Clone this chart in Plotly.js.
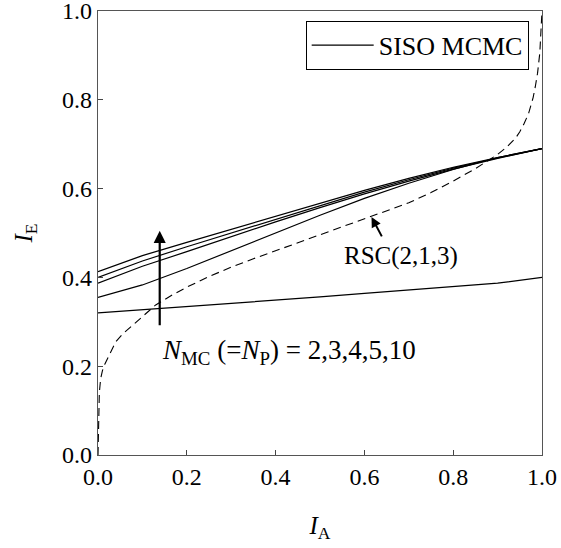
<!DOCTYPE html>
<html><head><meta charset="utf-8">
<script src="https://cdn.plot.ly/plotly-3.0.1.min.js"></script>
<style>html,body{margin:0;padding:0;background:#fff;}</style>
</head><body><div id="chart" style="width:561px;height:548px;"></div>
<script>
const xMC = [0, 0.1, 0.2, 0.3, 0.4, 0.5, 0.6, 0.7, 0.8, 0.9, 1.0];
const yN2  = [0.320, 0.327, 0.334, 0.341, 0.348, 0.356, 0.364, 0.372, 0.379, 0.387, 0.400];
const yN3  = [0.355, 0.383, 0.420, 0.460, 0.500, 0.540, 0.578, 0.612, 0.643, 0.670, 0.690];
const yN4  = [0.387, 0.425, 0.458, 0.492, 0.525, 0.557, 0.588, 0.617, 0.644, 0.668, 0.690];
const yN5  = [0.400, 0.437, 0.469, 0.500, 0.531, 0.562, 0.592, 0.620, 0.646, 0.669, 0.690];
const yN10 = [0.413, 0.449, 0.479, 0.508, 0.537, 0.566, 0.596, 0.623, 0.648, 0.670, 0.690];
const xRSC = [0, 0.001, 0.003, 0.006, 0.01, 0.015, 0.02, 0.03, 0.04, 0.055, 0.07, 0.085, 0.1, 0.13, 0.17, 0.2, 0.25, 0.3, 0.35, 0.4, 0.45, 0.5, 0.55, 0.6, 0.65, 0.7, 0.75, 0.8, 0.85, 0.9, 0.92, 0.94, 0.95, 0.96, 0.97, 0.98, 0.985, 0.99, 0.995, 0.998, 1.0];
const yRSC = [0, 0.09, 0.14, 0.172, 0.19, 0.204, 0.215, 0.237, 0.255, 0.272, 0.285, 0.3, 0.313, 0.338, 0.362, 0.378, 0.402, 0.423, 0.442, 0.46, 0.479, 0.497, 0.515, 0.532, 0.55, 0.568, 0.591, 0.617, 0.645, 0.677, 0.693, 0.713, 0.728, 0.747, 0.77, 0.805, 0.83, 0.86, 0.905, 0.95, 1.0];
const tickVals = [0, 0.2, 0.4, 0.6, 0.8, 1.0];
const tickText = ['0.0', '0.2', '0.4', '0.6', '0.8', '1.0'];

const FONT = 'Liberation Serif';
const mcSeries = [yN2, yN3, yN4, yN5, yN10];
const traces = mcSeries.map((ys, i) => ({
  x: xMC, y: ys, type: 'scatter', mode: 'lines',
  line: {color: '#000', width: 1.2},
  name: 'SISO MCMC', showlegend: i === 0, hoverinfo: 'skip'
}));
traces.push({
  x: xRSC, y: yRSC, type: 'scatter', mode: 'lines',
  line: {color: '#000', width: 1.1, dash: '8px,5px'},
  showlegend: false, hoverinfo: 'skip'
});

const axisCommon = {
  range: [0, 1], tickvals: tickVals, ticktext: tickText,
  ticks: 'inside', ticklen: 5, tickwidth: 1, tickcolor: '#444',
  showline: true, linecolor: '#555', linewidth: 1.3, mirror: true,
  showgrid: false, zeroline: false, ticklabeloverflow: 'allow',
  tickfont: {family: FONT, size: 24, color: '#000'}
};

const layout = {
  width: 561, height: 548,
  margin: {l: 98, r: 19, t: 11, b: 93},
  paper_bgcolor: '#fff', plot_bgcolor: '#fff',
  font: {family: FONT, color: '#000'},
  showlegend: true,
  legend: {
    x: 0.97, xanchor: 'right', y: 0.978, yanchor: 'top',
    bordercolor: '#000', borderwidth: 1, bgcolor: '#fff',
    font: {family: FONT, size: 26, color: '#000'},
    itemwidth: 62
  },
  xaxis: Object.assign({}, axisCommon, {
    title: {text: '<i>I</i><sub>A</sub>', font: {family: FONT, size: 25}, standoff: 27}
  }),
  yaxis: Object.assign({}, axisCommon, {
    title: {text: '<i>I</i><sub>E</sub>', font: {family: FONT, size: 25}, standoff: 22}
  }),
  annotations: [
    {x: 0.139, y: 0.505, ax: 0.139, ay: 0.289, xref: 'x', yref: 'y', axref: 'x', ayref: 'y',
     showarrow: true, arrowhead: 2, arrowsize: 1.1, arrowwidth: 2.2, arrowcolor: '#000', text: ''},
    {x: 0.14, y: 0.232, xref: 'x', yref: 'y', xanchor: 'left', yanchor: 'middle', showarrow: false,
     text: '<i>N</i><sub>MC</sub> (=<i>N</i><sub>P</sub>) = 2,3,4,5,10',
     font: {family: FONT, size: 27, color: '#000'}},
    {x: 0.616, y: 0.536, ax: 0.641, ay: 0.489, xref: 'x', yref: 'y', axref: 'x', ayref: 'y',
     showarrow: true, arrowhead: 2, arrowsize: 1, arrowwidth: 2, arrowcolor: '#000', text: ''},
    {x: 0.682, y: 0.448, xref: 'x', yref: 'y', xanchor: 'center', yanchor: 'middle', showarrow: false,
     text: 'RSC(2,1,3)', font: {family: FONT, size: 25, color: '#000'}}
  ]
};

Plotly.newPlot('chart', traces, layout, {displayModeBar: false, staticPlot: true});
</script></body></html>
